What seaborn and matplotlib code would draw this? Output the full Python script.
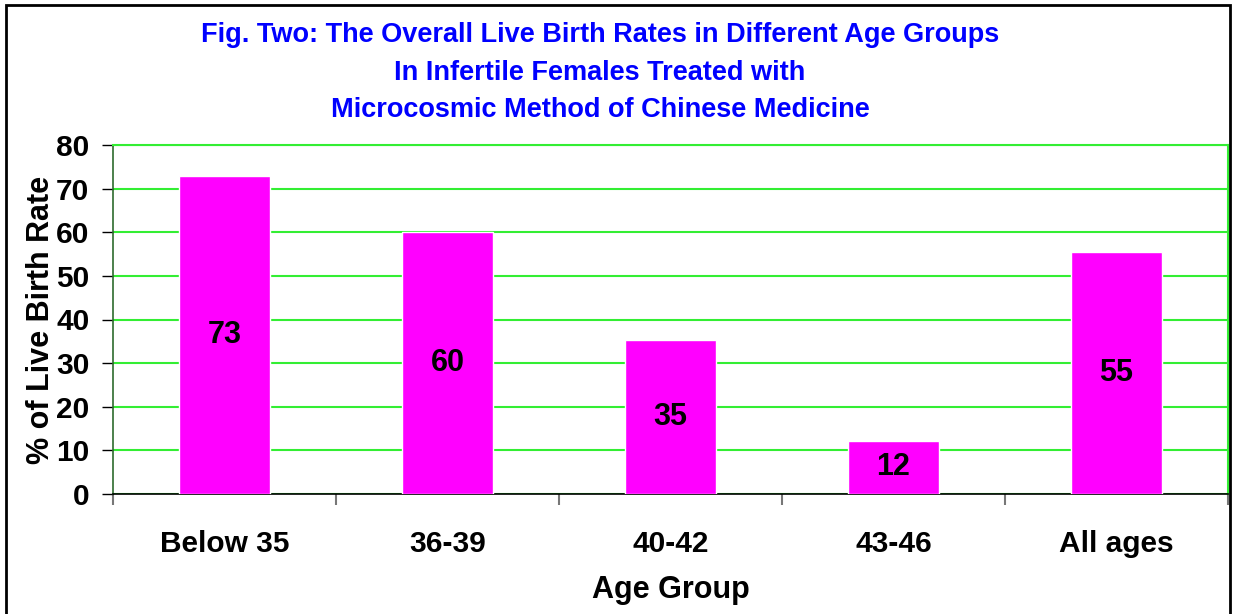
import matplotlib
matplotlib.use("Agg")
import matplotlib.pyplot as plt
import seaborn as sns
import pandas as pd
from matplotlib.patches import Rectangle

categories = ["Below 35", "36-39", "40-42", "43-46", "All ages"]
rates = [72.9, 60.1, 35.3, 12.2, 55.4]
yticks = [0, 10, 20, 30, 40, 50, 60, 70, 80]
title_lines = ["Fig. Two: The Overall Live Birth Rates in Different Age Groups",
               "In Infertile Females Treated with",
               "Microcosmic Method of Chinese Medicine"]

sns.set_theme(style="white")
plt.rcParams['font.family'] = ['Liberation Sans', 'DejaVu Sans']
plt.rcParams['text.color'] = 'black'
plt.rcParams['axes.labelcolor'] = 'black'
plt.rcParams['xtick.labelcolor'] = 'black'
plt.rcParams['ytick.labelcolor'] = 'black'

df = pd.DataFrame({"Age Group": categories, "rate": rates})

fig = plt.figure(figsize=(12.33, 6.14), dpi=100)
ax = fig.add_axes([113/1233, 1-494/614, (1228-113)/1233, (494-145)/614])

sns.barplot(data=df, x="Age Group", y="rate", color="#FF00FF", saturation=1,
            width=0.41, ax=ax, zorder=3)

ax.set_ylim(0, 80)
ax.set_xlim(-0.5, 4.5)
ax.set_yticks(yticks)
ax.yaxis.grid(True, color="#33EE33", linewidth=1.5, zorder=0)
ax.set_axisbelow(True)

ax.bar_label(ax.containers[0], fmt="%.0f", label_type="center",
             fontsize=22, fontweight="bold", color="black")

ax.tick_params(axis="y", left=True, length=8, width=1, color="black",
               labelsize=21.5, pad=9, labelcolor="black")
for t in ax.get_yticklabels():
    t.set_fontweight("bold")
ax.tick_params(axis="x", which="major", length=0, labelsize=21.5, pad=26,
               labelcolor="black")
for t in ax.get_xticklabels():
    t.set_fontweight("bold")
ax.set_xticks([-0.5, 0.5, 1.5, 2.5, 3.5, 4.5], minor=True)
ax.tick_params(axis="x", which="minor", bottom=True, length=8, width=1.5, color="#777777")

ax.set_xlabel("Age Group", fontsize=22, fontweight="bold", labelpad=12, color="black")
ax.set_ylabel("% of Live Birth Rate", fontsize=22, fontweight="bold", labelpad=0, color="black")

ax.spines["top"].set_color("#33EE33")
ax.spines["right"].set_color("#33EE33")
ax.spines["top"].set_linewidth(1.5)
ax.spines["right"].set_linewidth(1.5)
ax.spines["left"].set_color("#2E6B2E")
ax.spines["left"].set_linewidth(1.2)
ax.spines["bottom"].set_color("black")
ax.spines["bottom"].set_linewidth(1.2)

ys = [35, 73, 110]
for line, y in zip(title_lines, ys):
    fig.text(600/1233, 1 - y/614, line, ha="center", va="center",
             fontsize=19.5, fontweight="bold", color="#0000FF",
             family=['Liberation Sans Narrow', 'Liberation Sans', 'DejaVu Sans'])

fig.patches.append(Rectangle((6/1233, -0.02), (1230-6)/1233, 1.02 - 5/614,
                             transform=fig.transFigure, fill=False,
                             edgecolor="black", linewidth=2, zorder=10))

fig.savefig("out.png", dpi=100)
